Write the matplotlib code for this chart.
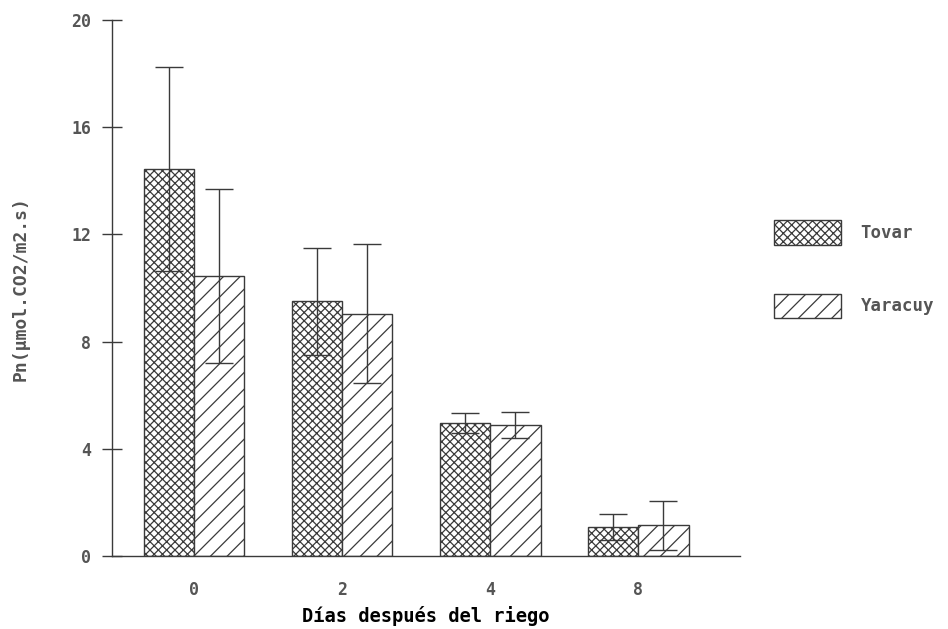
#Bar chart of net photosynthesis for two cultivars after irrigation
import numpy as np
import matplotlib.pyplot as plt
from matplotlib.patches import Patch

plt.rcParams['hatch.linewidth'] = 0.9

#Data

Days = ['0', '2', '4', '8']
Cultivars = ['Tovar', 'Yaracuy']

TovarPn = [14.45, 9.5, 4.95, 1.08]
TovarErr = [3.8, 2.0, 0.37, 0.5]

YaracuyPn = [10.45, 9.05, 4.88, 1.15]
YaracuyErr = [3.25, 2.6, 0.48, 0.92]

YTicks = [0, 4, 8, 12, 16, 20]

Hatches = ['xxxx', '//']

EdgeCol = '#3a3a3a'
TextCol = '#555555'
Font = 'DejaVu Sans Mono'

BarWidth = 0.34

fig = plt.figure(figsize=(9.48, 6.29), dpi=100)
ax = fig.add_axes([0.118, 0.116, 0.663, 0.852])

Xpos = np.arange(len(Days))

ax.bar(Xpos - BarWidth/2, TovarPn, BarWidth, color='white', edgecolor=EdgeCol, hatch=Hatches[0], linewidth=1.0)
ax.bar(Xpos + BarWidth/2, YaracuyPn, BarWidth, color='white', edgecolor=EdgeCol, hatch=Hatches[1], linewidth=1.0)

ax.errorbar(Xpos - BarWidth/2, TovarPn, yerr=TovarErr, fmt='none', ecolor=EdgeCol, elinewidth=1.0, capsize=10, capthick=1.0)
ax.errorbar(Xpos + BarWidth/2, YaracuyPn, yerr=YaracuyErr, fmt='none', ecolor=EdgeCol, elinewidth=1.0, capsize=10, capthick=1.0)

ax.set_xlim(-0.555, 3.69)
ax.set_ylim(0, 20)

ax.set_yticks(YTicks)
ax.set_yticklabels([str(t) for t in YTicks], family=Font, fontsize=12, fontweight='bold', color=TextCol)
ax.set_xticks(Xpos)
ax.set_xticklabels(Days, family=Font, fontsize=12, fontweight='bold', color=TextCol)

ax.tick_params(axis='y', direction='inout', length=14, width=1.0, color=EdgeCol, pad=8)
ax.tick_params(axis='x', length=0, pad=18)

for side in ['top', 'right']:
	ax.spines[side].set_visible(False)
for side in ['left', 'bottom']:
	ax.spines[side].set_color(EdgeCol)
	ax.spines[side].set_linewidth(1.0)

ax.set_xlabel('Días después del riego', family=Font, fontsize=13.5, fontweight='bold', color='black', labelpad=5)
ax.set_ylabel('Pn(µmol.CO2/m2.s)', family=Font, fontsize=13, fontweight='bold', color=TextCol, labelpad=30)

#legend to the right of the plot
Handles = [Patch(facecolor='white', edgecolor=EdgeCol, hatch=Hatches[i], label=Cultivars[i]) for i in range(2)]
leg = fig.legend(handles=Handles, loc='center left', bbox_to_anchor=(0.807, 0.572), frameon=False,
	prop={'family': Font, 'size': 12.5, 'weight': 'bold'}, handlelength=3.9, handleheight=1.8,
	labelspacing=2.8, handletextpad=1.1, borderpad=0)
for t in leg.get_texts():
	t.set_color(TextCol)

fig.savefig('out.png', dpi=100)
